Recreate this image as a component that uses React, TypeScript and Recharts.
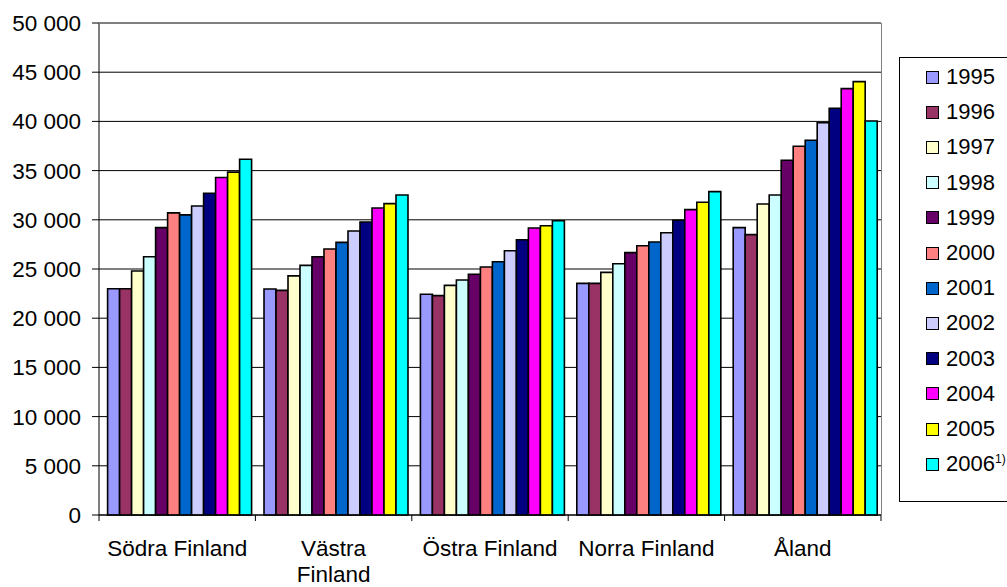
import { BarChart, Bar, XAxis, YAxis, CartesianGrid, Legend } from 'recharts';

const regions = ['Södra Finland', 'Västra Finland', 'Östra Finland', 'Norra Finland', 'Åland'];
// labels that Excel wrapped onto two lines
const wrappedLabels: Record<string, string[]> = { 'Västra Finland': ['Västra', 'Finland'] };

const years = ['1995', '1996', '1997', '1998', '1999', '2000', '2001', '2002', '2003', '2004', '2005', '2006'];
const footnoteYear = '2006';

const colors = [
  '#9999FF', '#993366', '#FFFFCC', '#CCFFFF', '#660066', '#FF8080',
  '#0066CC', '#CCCCFF', '#000080', '#FF00FF', '#FFFF00', '#00FFFF',
];

// values per region, 1995..2006
const sodra = [23000, 23000, 24800, 26250, 29200, 30700, 30500, 31400, 32700, 34300, 34850, 36150];
const vastra = [22970, 22830, 24300, 25370, 26250, 27030, 27710, 28860, 29780, 31200, 31640, 32520];
const ostra = [22430, 22290, 23340, 23880, 24460, 25200, 25740, 26860, 27980, 29170, 29400, 29910];
const norra = [23540, 23540, 24660, 25540, 26660, 27370, 27740, 28690, 29950, 31030, 31780, 32860];
const aland = [29200, 28490, 31600, 32520, 36050, 37470, 38080, 39870, 41330, 43330, 44040, 40040];

const yTicks = [0, 5000, 10000, 15000, 20000, 25000, 30000, 35000, 40000, 45000, 50000];

const seriesByRegion = [sodra, vastra, ostra, norra, aland];
const data = regions.map((name, r) => {
  const row: Record<string, string | number> = { name };
  years.forEach((y, i) => { row[y] = seriesByRegion[r][i]; });
  return row;
});

const FONT = '"Liberation Sans", Arial, sans-serif';
const W = 1007;
const H = 587;
const PLOT_LEFT = 99;
const PLOT_RIGHT = 881;
const HALF_BAND = (PLOT_RIGHT - PLOT_LEFT) / regions.length / 2;

const fmt = (v: number) => v.toLocaleString('en-US').replace(/,/g, ' ');

function CategoryTick(props: any) {
  const { x, y, payload, index } = props;
  const lines = wrappedLabels[payload.value] || [payload.value];
  return (
    <g>
      <line x1={x - HALF_BAND} x2={x - HALF_BAND} y1={y} y2={y + 6} stroke="#000" />
      {index === regions.length - 1 && (
        <line x1={x + HALF_BAND} x2={x + HALF_BAND} y1={y} y2={y + 6} stroke="#000" />
      )}
      {lines.map((l: string, i: number) => (
        <text key={i} x={x} y={y + 41 + i * 26} textAnchor="middle" fontSize={22.5} fontFamily={FONT} fill="#000">
          {l}
        </text>
      ))}
    </g>
  );
}

function LegendBox() {
  return (
    <div
      style={{
        position: 'absolute', left: 899, top: 57, width: 115, height: 445,
        border: '1px solid #000', background: '#fff', boxSizing: 'border-box',
        fontFamily: FONT, fontSize: 22,
      }}
    >
      {years.map((y, i) => (
        <div key={y} style={{ position: 'absolute', left: 26, top: 10 + i * 35.2, height: 18, display: 'flex', alignItems: 'center' }}>
          <span style={{ width: 11, height: 11, background: colors[i], border: '1.5px solid #000', display: 'inline-block' }} />
          <span style={{ marginLeft: 7, lineHeight: '18px' }}>
            {y}
            {y === footnoteYear && <sup style={{ fontSize: 12, verticalAlign: 8, lineHeight: 0 }}>1)</sup>}
          </span>
        </div>
      ))}
    </div>
  );
}

export default function App() {
  return (
    <div style={{ position: 'absolute', left: 0, top: 0, width: W, height: H, background: '#fff', overflow: 'hidden' }}>
      <BarChart
        width={W}
        height={H}
        data={data}
        margin={{ top: 23, right: W - PLOT_RIGHT, left: 0, bottom: 12 }}
        barCategoryGap="5.5%"
        barGap={0}
      >
        <CartesianGrid vertical={false} stroke="#000" />
        <XAxis
          dataKey="name"
          height={60}
          tick={<CategoryTick />}
          tickLine={false}
          tickSize={0}
          tickMargin={0}
          axisLine={{ stroke: '#000' }}
          interval={0}
        />
        <YAxis
          width={PLOT_LEFT}
          domain={[0, 50000]}
          ticks={yTicks}
          tickFormatter={fmt}
          tickSize={7}
          tickMargin={11}
          tick={{ fill: '#000', fontSize: 22.5, fontFamily: FONT }}
          tickLine={{ stroke: '#000' }}
          axisLine={{ stroke: '#000' }}
          interval={0}
        />
        <Legend content={() => null} />
        {years.map((y, i) => (
          <Bar key={y} dataKey={y} fill={colors[i]} stroke="#000" strokeWidth={1.6} isAnimationActive={false} />
        ))}
      </BarChart>
      {/* plot area top and right border */}
      <div style={{ position: 'absolute', left: PLOT_LEFT, top: 23, width: PLOT_RIGHT - PLOT_LEFT, height: 1, background: '#808080' }} />
      <div style={{ position: 'absolute', left: PLOT_RIGHT, top: 23, width: 1, height: 492, background: '#808080' }} />
      <LegendBox />
    </div>
  );
}
